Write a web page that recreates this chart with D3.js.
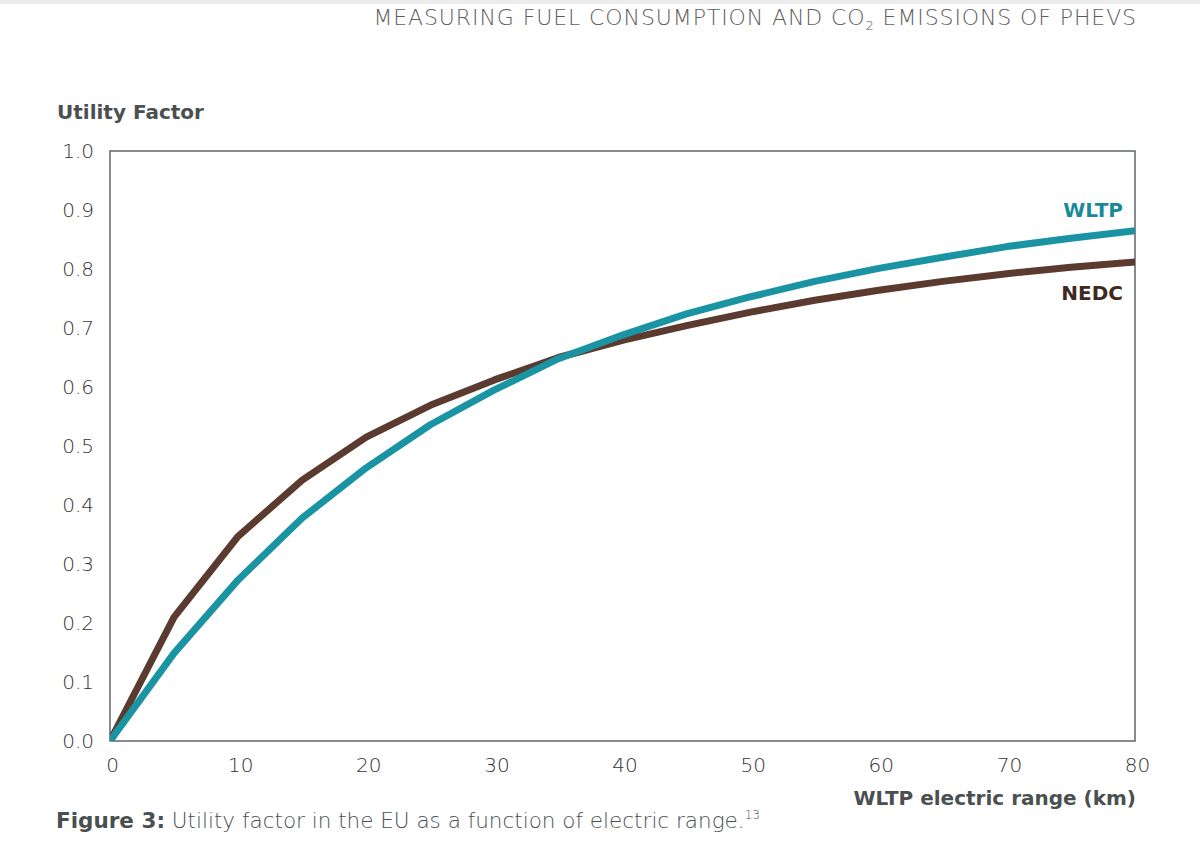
<!DOCTYPE html>
<html>
<head>
<meta charset="utf-8">
<script src="https://cdn.jsdelivr.net/npm/d3@7"></script>
<style>
  body { margin: 0; background: #fff; }
  text { font-family: "DejaVu Sans", sans-serif; }
</style>
</head>
<body>
<div id="chart"></div>
<script>
// electric range (km), every 5 km
const ranges = [0, 5, 10, 15, 20, 25, 30, 35, 40, 45, 50, 55, 60, 65, 70, 75, 80];
const nedc = [0.0, 0.21, 0.347, 0.442, 0.515, 0.569, 0.612, 0.65, 0.679, 0.704, 0.727, 0.747, 0.764, 0.779, 0.792, 0.803, 0.812];
const wltp = [0.0, 0.149, 0.273, 0.378, 0.463, 0.536, 0.595, 0.648, 0.688, 0.724, 0.753, 0.779, 0.801, 0.82, 0.838, 0.852, 0.865];
const xTicks = [0, 10, 20, 30, 40, 50, 60, 70, 80];
const yTicks = [0, 0.1, 0.2, 0.3, 0.4, 0.5, 0.6, 0.7, 0.8, 0.9, 1.0];

const config = {
    width: 1200,
    height: 865,
    margin: { top: 151, right: 65, bottom: 124, left: 110 },
    lineWidth: 7
};
const innerW = config.width - config.margin.left - config.margin.right;
const innerH = config.height - config.margin.top - config.margin.bottom;

const svg = d3.select("#chart")
    .append("svg")
    .attr("width", config.width)
    .attr("height", config.height);

// page header
svg.append("rect")
    .attr("x", 0).attr("y", 0)
    .attr("width", config.width).attr("height", 4)
    .style("fill", "#ececec");

const header = svg.append("text")
    .attr("x", 1137)
    .attr("y", 25)
    .attr("text-anchor", "end")
    .style("font-size", "22px")
    .style("font-weight", 200)
    .style("letter-spacing", "0.9px")
    .style("fill", "#5e5e5e");
header.append("tspan").text("MEASURING FUEL CONSUMPTION AND CO");
header.append("tspan").attr("dy", 5).style("font-size", "13px").text("2");
header.append("tspan").attr("dy", -5).text(" EMISSIONS OF PHEVS");

const g = svg.append("g")
    .attr("transform", "translate(" + config.margin.left + "," + config.margin.top + ")");

const xScale = d3.scaleLinear().domain([0, 80]).range([0, innerW]);
const yScale = d3.scaleLinear().domain([0, 1]).range([innerH, 0]);

// y axis labels only
const yAxis = g.append("g")
    .call(d3.axisLeft(yScale).tickValues(yTicks).tickFormat(d3.format(".1f")).tickSize(0).tickPadding(16));
yAxis.select(".domain").remove();
yAxis.selectAll("text")
    .style("font-family", "'DejaVu Sans', sans-serif")
    .style("font-size", "20px")
    .style("font-weight", 200)
    .style("fill", "#333");

const xAxis = g.append("g")
    .attr("transform", "translate(0," + innerH + ")")
    .call(d3.axisBottom(xScale).tickValues(xTicks).tickSize(0).tickPadding(17));
xAxis.select(".domain").remove();
xAxis.selectAll("text")
    .attr("dx", 2)
    .style("font-family", "'DejaVu Sans', sans-serif")
    .style("font-size", "20px")
    .style("font-weight", 200)
    .style("fill", "#333");

// frame
g.append("rect")
    .attr("x", 0).attr("y", 0)
    .attr("width", innerW).attr("height", innerH)
    .style("fill", "none")
    .style("stroke", "#5f6566")
    .style("stroke-width", 1.5);

g.append("clipPath").attr("id", "plot-clip")
    .append("rect").attr("x", 0).attr("y", -10).attr("width", innerW).attr("height", innerH + 10);

const line = d3.line()
    .x(d => xScale(d[0]))
    .y(d => yScale(d[1]));

const series = [
    { name: "NEDC", values: nedc, color: "#5b3b2f" },
    { name: "WLTP", values: wltp, color: "#1a93a3" }
];

g.append("g")
    .attr("clip-path", "url(#plot-clip)")
    .selectAll("path")
    .data(series)
    .enter().append("path")
    .attr("d", s => line(ranges.map((r, i) => [r, s.values[i]])))
    .style("fill", "none")
    .style("stroke", s => s.color)
    .style("stroke-width", config.lineWidth)
    .style("stroke-linejoin", "round");

// series labels
g.append("text")
    .attr("x", xScale(80) - 12)
    .attr("y", yScale(0.9) + 7)
    .attr("text-anchor", "end")
    .style("font-size", "20px")
    .style("font-weight", 700)
    .style("fill", "#1a8a99")
    .text("WLTP");

g.append("text")
    .attr("x", xScale(80) - 12)
    .attr("y", yScale(0.758) + 6)
    .attr("text-anchor", "end")
    .style("font-size", "20px")
    .style("font-weight", 700)
    .style("fill", "#3e2a22")
    .text("NEDC");

// axis titles
svg.append("text")
    .attr("x", 57)
    .attr("y", 119)
    .style("font-size", "20px")
    .style("font-weight", 700)
    .style("fill", "#4a4f50")
    .text("Utility Factor");

svg.append("text")
    .attr("x", 1136)
    .attr("y", 805)
    .attr("text-anchor", "end")
    .style("font-size", "20px")
    .style("font-weight", 700)
    .style("fill", "#4a4f50")
    .text("WLTP electric range (km)");

// caption
const caption = svg.append("text")
    .attr("x", 56)
    .attr("y", 828)
    .style("font-size", "21.5px")
    .style("fill", "#4a4f50");
caption.append("tspan").style("font-weight", 700).text("Figure 3:");
caption.append("tspan").style("font-weight", 200).text(" Utility factor in the EU as a function of electric range.");
caption.append("tspan").attr("dy", -9).style("font-size", "12px").style("font-weight", 200).text("13");
</script>
</body>
</html>
